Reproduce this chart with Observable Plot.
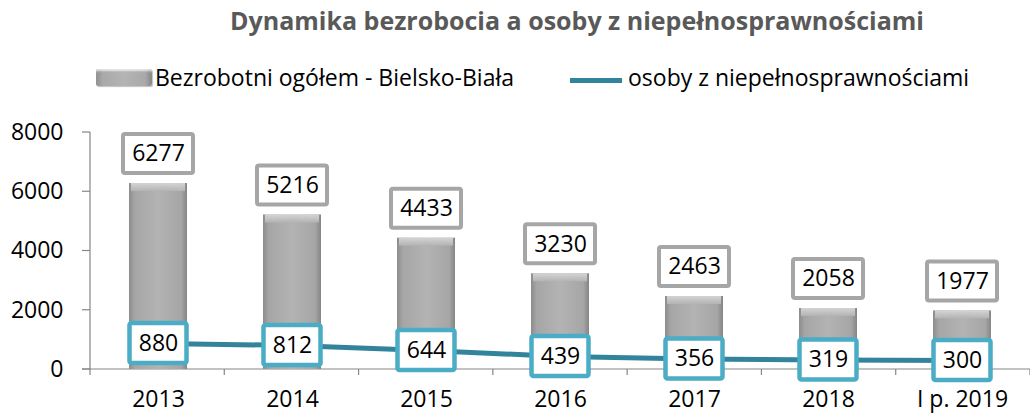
<!DOCTYPE html>
<html><head><meta charset="utf-8">
<script src="https://cdn.jsdelivr.net/npm/d3@7"></script>
<script src="https://cdn.jsdelivr.net/npm/@observablehq/plot@0.6"></script>
<style>
body{margin:0;background:#fff;font-family:"Open Sans",sans-serif;}
#wrap{position:relative;width:1030px;height:415px;overflow:hidden;}
#head{position:relative;height:100px;}
#title{position:absolute;left:577px;top:5px;transform:translateX(-50%);white-space:nowrap;font-weight:bold;font-size:25px;color:#595959;line-height:30px;}
.lg{position:absolute;white-space:nowrap;font-size:23px;line-height:30px;color:#000;top:62px;}
.sw1{position:absolute;left:96px;top:69px;width:56px;height:17px;border-radius:2px;
 background:linear-gradient(to right,#8f8f8f,#a9a9a9 12%,#b4b4b4 50%,#a9a9a9 88%,#868686);
 box-shadow:inset 0 3px 2px -1px rgba(255,255,255,.7), 1px 1px 1px rgba(0,0,0,.25);}
.sw2{position:absolute;left:570px;top:78px;width:52px;height:5px;background:#31849b;}
</style></head>
<body><div id="wrap">
<div id="head">
<div id="title"></div>
<div class="sw1"></div><div class="lg" id="lg1" style="left:155px"></div>
<div class="sw2"></div><div class="lg" id="lg2" style="left:628px"></div>
</div>
<div id="chart"></div>
</div>
<script>
const title = "Dynamika bezrobocia a osoby z niepełnosprawnościami";
const seriesNames = ["Bezrobotni ogółem - Bielsko-Biała", "osoby z niepełnosprawnościami"];
const years = ["2013","2014","2015","2016","2017","2018","I p. 2019"];
const unemployed = [6277,5216,4433,3230,2463,2058,1977];
const disabled = [880,812,644,439,356,319,300];
const yTicks = [0,2000,4000,6000,8000];

document.getElementById("title").textContent = title;
document.getElementById("lg1").textContent = seriesNames[0];
document.getElementById("lg2").textContent = seriesNames[1];

const data = years.map((y,i)=>({year:y, u:unemployed[i], d:disabled[i]}));
const axisColor = "#868686";

function axisLines(index, scales, values, dims) {
  const y = scales.y;
  const x0 = dims.marginLeft, x1 = dims.width - dims.marginRight;
  const y0 = y(0), yTop = y(d3.max(yTicks));
  const g = d3.create("svg:g").attr("stroke", axisColor).attr("stroke-width", 1.2).attr("fill","none");
  g.append("line").attr("x1", x0).attr("x2", x0).attr("y1", yTop).attr("y2", y0 + 6);
  g.append("line").attr("x1", x0 - 8).attr("x2", x1).attr("y1", y0).attr("y2", y0);
  for (const t of yTicks) g.append("line").attr("x1", x0 - 8).attr("x2", x0).attr("y1", y(t)).attr("y2", y(t));
  const step = (x1 - x0) / years.length;
  for (let i = 1; i <= years.length; i++) g.append("line").attr("x1", x0 + i*step).attr("x2", x0 + i*step).attr("y1", y0).attr("y2", y0 + 6);
  return g.node();
}

const svg = Plot.plot({
  width: 1030, height: 315,
  marginLeft: 90, marginRight: 0, marginTop: 32, marginBottom: 46,
  x: {domain: years, paddingInner: 0.57, paddingOuter: 0.285, tickSize: 0, tickPadding: 21, label: null},
  y: {domain: [0, 8000], ticks: yTicks, tickSize: 0, tickPadding: 27, tickFormat: d3.format("d"), label: null},
  style: {fontFamily: "Open Sans", fontSize: "23px", color: "#000", background: "transparent", overflow: "visible"},
  marks: [
    axisLines,
    Plot.barY(data, {x: "year", y: "u", fill: "url(#barGrad)"}),
    Plot.barY(data, {x: "year", y1: "u", y2: "u", insetBottom: -8, insetLeft: 2, insetRight: 2, fill: "url(#capGrad)"}),
    Plot.line(data, {x: "year", y: "d", stroke: "#31849b", strokeWidth: 5}),
    Plot.barY(data, {x: "year", y1: "u", y2: "u", insetTop: -49, insetBottom: 10, insetLeft: -6, insetRight: -6, fill: "white", stroke: "#a6a6a6", strokeWidth: 4, rx: 2}),
    Plot.text(data, {x: "year", y: "u", text: d => String(d.u), dy: -29.5, fontSize: 23, fill: "#000"}),
    Plot.barY(data, {x: "year", y1: "d", y2: "d", insetTop: -20, insetBottom: -20, insetLeft: 0.5, insetRight: 0.5, fill: "white", stroke: "#4bacc6", strokeWidth: 4.5, rx: 2}),
    Plot.text(data, {x: "year", y: "d", text: d => String(d.d), fontSize: 23, fill: "#000"})
  ]
});

const defs = d3.create("svg:defs");
const g1 = defs.append("linearGradient").attr("id","barGrad").attr("x1",0).attr("x2",1).attr("y1",0).attr("y2",0);
[[0,"#8c8c8c"],[0.1,"#a6a6a6"],[0.5,"#b3b3b3"],[0.9,"#a6a6a6"],[1,"#858585"]].forEach(([o,c])=>g1.append("stop").attr("offset",o).attr("stop-color",c));
const g2 = defs.append("linearGradient").attr("id","capGrad").attr("x1",0).attr("x2",0).attr("y1",0).attr("y2",1);
[[0,"#d4d4d4"],[1,"#b3b3b3"]].forEach(([o,c])=>g2.append("stop").attr("offset",o).attr("stop-color",c));
svg.insertBefore(defs.node(), svg.firstChild);
document.getElementById("chart").appendChild(svg);
</script>
</body></html>
